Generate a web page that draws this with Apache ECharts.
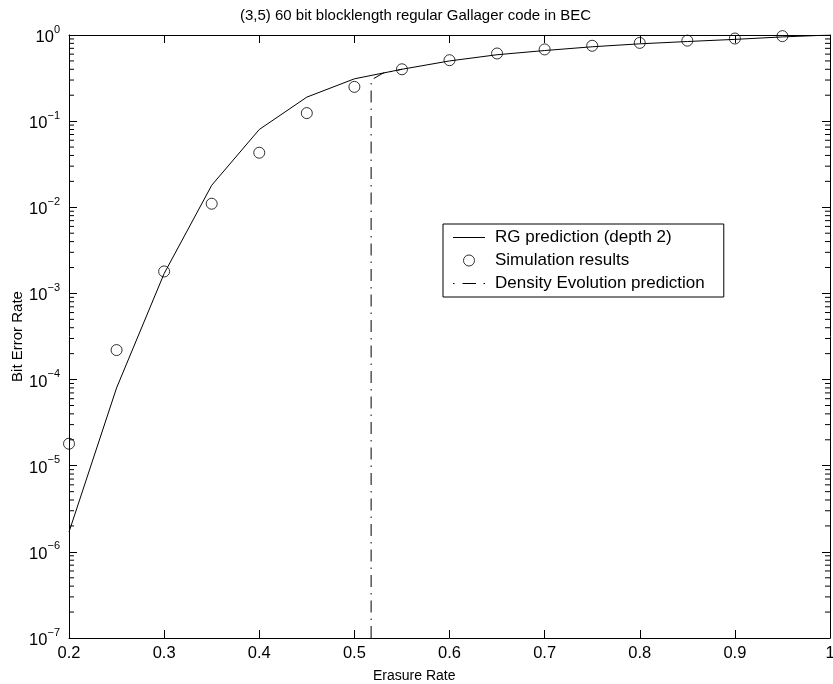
<!DOCTYPE html>
<html>
<head>
<meta charset="utf-8">
<script src="https://cdn.jsdelivr.net/npm/echarts@6/dist/echarts.min.js"></script>
<style>html,body{margin:0;padding:0;background:#fff}#c{width:833px;height:684px}</style>
</head>
<body>
<div id="c"></div>
<script>
const erasure = [0.2,0.25,0.3,0.35,0.4,0.45,0.5,0.55,0.6,0.65,0.7,0.75,0.8,0.85,0.9,0.95,1.0];
const rgPrediction = [1.7e-6,8e-5,1.7e-3,1.8e-2,8e-2,0.19,0.31,0.40,0.50,0.59,0.66,0.73,0.79,0.84,0.89,0.95,1.0];
const simX = [0.2,0.25,0.3,0.35,0.4,0.45,0.5,0.55,0.6,0.65,0.7,0.75,0.8,0.85,0.9,0.95];
const simResults = [1.8e-5,2.2e-4,1.8e-3,1.1e-2,4.3e-2,0.124,0.25,0.40,0.51,0.61,0.68,0.75,0.81,0.86,0.91,0.97];
const deX = [0.5176,0.5176,0.53,0.55];
const deY = [1e-7,0.30,0.36,0.40];
const xTicks = [0.2,0.3,0.4,0.5,0.6,0.7,0.8,0.9,1];
const yDecades = [-7,-6,-5,-4,-3,-2,-1,0];

const FONT = 'Liberation Sans, Arial, Helvetica, sans-serif';
const minorVals = [];
for (const d of yDecades.slice(0,-1)) for (let m=2;m<=9;m++) minorVals.push([m*Math.pow(10,d)]);

const chart = echarts.init(document.getElementById('c'), null, {renderer:'canvas'});
const axisLine = {show:true, lineStyle:{color:'#000', width:1}};
const solidIcon = 'path://M0,0H32V1H0Z';
const dashDotIcon = 'path://M0,0H1.5V1H0Z M9.5,0H23V1H9.5Z M30.5,0H32V1H30.5Z';
chart.setOption({
  animation:false,
  backgroundColor:'#fff',
  title:[
    {text:'(3,5) 60 bit blocklength regular Gallager code in BEC', left:235, top:3,
     textStyle:{fontFamily:FONT, fontSize:15, fontWeight:'normal', color:'#000'}},
    {text:'Erasure Rate', left:368, top:664,
     textStyle:{fontFamily:FONT, fontSize:14, fontWeight:'normal', color:'#000'}}
  ],
  grid:{left:69, right:3, top:35, bottom:46, containLabel:false, outerBoundsMode:'none'},
  legend:{
    left:443, top:224, orient:'vertical', symbolKeepAspect:true,
    data:[
      {name:'RG prediction (depth 2)', icon:solidIcon, itemStyle:{color:'#000', borderWidth:0}},
      {name:'Simulation results', icon:'circle', itemStyle:{color:'rgba(255,255,255,0)', borderColor:'#000', borderWidth:1}},
      {name:'Density Evolution prediction', icon:dashDotIcon, itemStyle:{color:'#000', borderWidth:0}}
    ],
    backgroundColor:'#fff', borderColor:'#000', borderWidth:1, borderRadius:0,
    padding:[5,19,5,10], itemWidth:32, itemHeight:11, itemGap:6,
    textStyle:{fontFamily:FONT, fontSize:17, color:'#000', padding:[0,0,0,5], lineHeight:14}
  },
  xAxis:[
    {type:'value', min:0.2, max:1, interval:0.1, position:'bottom',
     axisLine:axisLine, splitLine:{show:false},
     axisTick:{show:true, inside:true, length:8, lineStyle:{color:'#000'}},
     axisLabel:{fontFamily:FONT, fontSize:16.5, color:'#000', margin:7,
       formatter:v=>{const t=xTicks.find(x=>Math.abs(x-v)<1e-9); return t===undefined?'':(t===1?'1':t.toFixed(1));}}},
    {type:'value', min:0.2, max:1, interval:0.1, position:'top',
     axisLine:axisLine, splitLine:{show:false},
     axisTick:{show:true, inside:true, length:8, lineStyle:{color:'#000'}},
     axisLabel:{show:false}}
  ],
  yAxis:[
    {type:'log', logBase:10, min:1e-7, max:1, splitNumber:7, position:'left',
     name:'Bit Error Rate', nameLocation:'middle', nameGap:44, nameMoveOverlap:false,
     nameTextStyle:{fontFamily:FONT, fontSize:15, color:'#000'},
     axisLine:axisLine, splitLine:{show:false},
     axisTick:{show:true, inside:true, length:8, lineStyle:{color:'#000'}},
     axisLabel:{margin:9, color:'#000',
       formatter:v=>{const e=Math.round(Math.log10(v)); return '{a|10}{b|'+(e<0?'\u2212'+(-e):e)+'}';},
       rich:{a:{fontFamily:FONT, fontSize:16.5, color:'#000', verticalAlign:'bottom', lineHeight:22},
             b:{fontFamily:FONT, fontSize:11, color:'#000', verticalAlign:'top', lineHeight:22}}}},
    {type:'log', logBase:10, min:1e-7, max:1, splitNumber:7, position:'right',
     axisLine:axisLine, splitLine:{show:false},
     axisTick:{show:true, inside:true, length:8, lineStyle:{color:'#000'}},
     axisLabel:{show:false}}
  ],
  series:[
    {type:'custom', name:'minor', silent:true, xAxisIndex:0, yAxisIndex:0, clip:false,
     data:minorVals.map(v=>[0.2, v[0]]),
     renderItem:(params, api)=>{
       const v = api.value(1);
       const p1 = api.coord([0.2, v]);
       const p2 = api.coord([1, v]);
       return {type:'group', children:[
         {type:'line', shape:{x1:p1[0], y1:p1[1], x2:p1[0]+5, y2:p1[1]}, style:{stroke:'#000', lineWidth:1}},
         {type:'line', shape:{x1:p2[0], y1:p2[1], x2:p2[0]-5, y2:p2[1]}, style:{stroke:'#000', lineWidth:1}}
       ]};
     }},
    {type:'line', name:'RG prediction (depth 2)', data:erasure.map((x,i)=>[x, rgPrediction[i]]),
     showSymbol:false, symbol:'none', color:'#000', lineStyle:{color:'#000', width:1}},
    {type:'scatter', name:'Simulation results', data:simX.map((x,i)=>[x, simResults[i]]),
     symbol:'circle', symbolSize:11, clip:false,
     itemStyle:{color:'rgba(255,255,255,0)', borderColor:'#000', borderWidth:1}},
    {type:'line', name:'Density Evolution prediction', data:deX.map((x,i)=>[x, deY[i]]),
     showSymbol:false, symbol:'none', color:'#000',
     lineStyle:{color:'#000', width:1, type:[12,6,1.5,6]}}
  ]
});
</script>
</body>
</html>
